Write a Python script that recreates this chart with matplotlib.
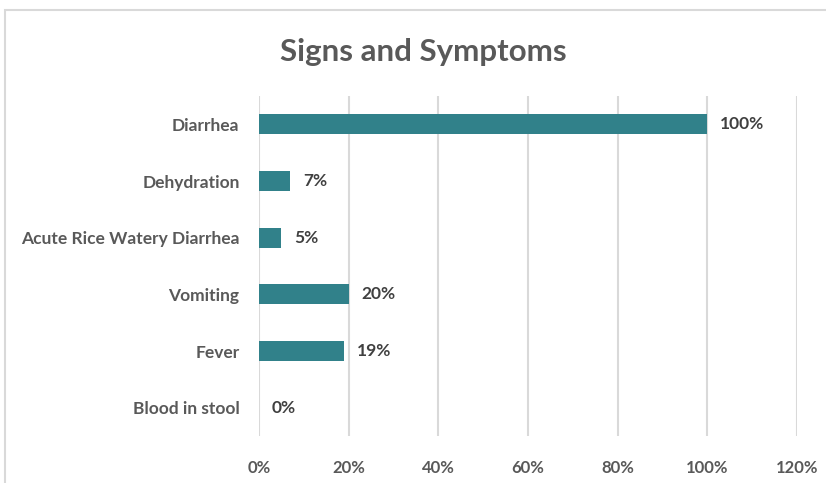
import matplotlib
matplotlib.use("Agg")
import matplotlib.pyplot as plt
from matplotlib.patches import Rectangle
from matplotlib.ticker import FuncFormatter

categories = ["Diarrhea", "Dehydration", "Acute Rice Watery Diarrhea",
              "Vomiting", "Fever", "Blood in stool"]
percent = [100, 7, 5, 20, 19, 0]
value_labels = ["100%", "7%", "5%", "20%", "19%", "0%"]

bar_color = "#31818a"
text_color = "#595959"

plt.rcParams["font.family"] = ["Lato", "DejaVu Sans"]

fig = plt.figure(figsize=(8.26, 4.83), dpi=100)
ax = fig.add_axes([0.3136, 0.0973, 0.6513, 0.7039])

# light border of the chart frame
fig.patches.append(Rectangle((5 / 826, -0.05), 1.1, 1 - 10 / 483 + 0.05,
                             transform=fig.transFigure, fill=False,
                             edgecolor="#d9d9d9", linewidth=1.5))

y = list(range(len(categories)))
ax.barh(y, percent, height=0.35, color=bar_color, zorder=3)

for yi, v, lab in zip(y, percent, value_labels):
    ax.annotate(lab, (v, yi), xytext=(9, 0), textcoords="offset points",
                va="center", ha="left", fontsize=12.5, fontweight="bold",
                color="#404040")

ax.set_xlim(0, 120)
ax.set_ylim(len(categories) - 0.5, -0.5)
ax.set_xticks(range(0, 121, 20))
ax.xaxis.set_major_formatter(FuncFormatter(lambda v, p: f"{int(v)}%"))
ax.set_yticks(y)
ax.set_yticklabels(categories)

ax.grid(axis="x", color="#d9d9d9", linewidth=1.5, zorder=0)
for s in ax.spines.values():
    s.set_visible(False)
ax.tick_params(axis="both", length=0, colors=text_color)
ax.tick_params(axis="x", pad=17, labelsize=12)
ax.tick_params(axis="y", pad=14, labelsize=12.5)
for t in ax.get_yticklabels():
    t.set_fontweight("bold")
for t in ax.get_xticklabels():
    t.set_fontweight("bold")

fig.text(0.512, 0.893, "Signs and Symptoms", ha="center", va="center",
         fontsize=22.5, fontweight="bold", color=text_color)

fig.savefig("out.png", dpi=100)
